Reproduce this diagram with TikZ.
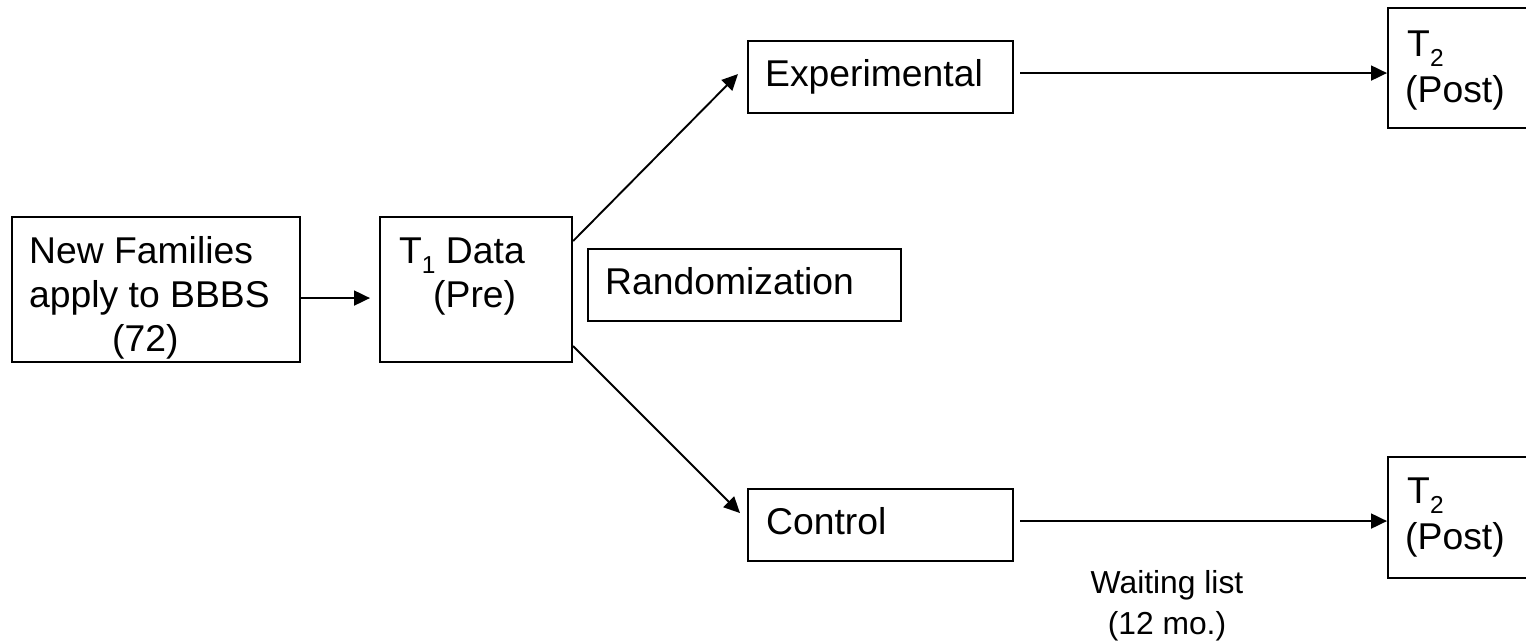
\documentclass[tikz,border=0pt]{standalone}
\usepackage{fontspec}
\setmainfont{Liberation Sans}
\usetikzlibrary{arrows.meta}
% lowered small index, as in T1 / T2
\newcommand\lowidx[1]{\raisebox{-10pt}{\fontsize{24.5}{24.5}\selectfont #1}}
\begin{document}
\begin{tikzpicture}[x=1pt,y=-1pt,
  box/.style={draw, line width=2.1pt, inner sep=0pt, anchor=north west},
  lbl/.style={font=\fontsize{37.3}{44}\selectfont, inner sep=0pt, anchor=base west},
  note/.style={font=\fontsize{31.8}{38}\selectfont, inner sep=0pt, anchor=base},
  arr/.style={line width=1.9pt, -{Triangle[length=16pt,width=15pt]}}]
\useasboundingbox (0,0) rectangle (1526,641);
\clip (0,0) rectangle (1526,641);

% boxes
\node[box, minimum width=288pt, minimum height=145pt] (nf)  at (11,216)  {};
\node[box, minimum width=192pt, minimum height=145pt] (t1)  at (379,216) {};
\node[box, minimum width=313pt, minimum height=72pt]  (rnd) at (587,248) {};
\node[box, minimum width=265pt, minimum height=72pt]  (exp) at (747,40)  {};
\node[box, minimum width=265pt, minimum height=72pt]  (ctl) at (747,488) {};
\node[box, minimum width=160pt, minimum height=120pt] (t2a) at (1387,7)   {};
\node[box, minimum width=160pt, minimum height=121pt] (t2b) at (1387,456) {};

% texts
\node[lbl] (nf-l1)  at (29,263)   {New Families};
\node[lbl] (nf-l2)  at (29,307)   {apply to BBBS};
\node[lbl] (nf-l3)  at (112,351)  {(72)};
\node[lbl] (t1-l1)  at (399,263)  {T\lowidx{1} Data};
\node[lbl] (t1-l2)  at (433,307)  {(Pre)};
\node[lbl] (rnd-l)  at (605,294)  {Randomization};
\node[lbl] (exp-l)  at (765,86)   {Experimental};
\node[lbl] (ctl-l)  at (766,534)  {Control};
\node[lbl] (t2a-l1) at (1407,56)  {T\lowidx{2}};
\node[lbl] (t2a-l2) at (1405,102) {(Post)};
\node[lbl] (t2b-l1) at (1407,503) {T\lowidx{2}};
\node[lbl] (t2b-l2) at (1405,549) {(Post)};
\node[note] (wait-l1) at (1167,593) {Waiting list};
\node[note] (wait-l2) at (1167,634) {(12 mo.)};

% connectors
\draw[arr] ([yshift=-8.5pt]nf.east) -- ([yshift=-8.5pt,xshift=-9pt]t1.west);
\draw[arr] ([yshift=48.5pt]t1.east) -- ([xshift=-9pt,yshift=3pt]exp.west);
\draw[arr] ([yshift=-56.5pt]t1.east) -- ([xshift=-7pt,yshift=12pt]ctl.west);
\coordinate (e-out) at ([xshift=6pt,yshift=4pt]exp.east);
\coordinate (c-out) at ([xshift=6pt,yshift=4pt]ctl.east);
\draw[arr] (e-out) -- (e-out -| t2a.west);
\draw[arr] (c-out) -- (c-out -| t2b.west);
\end{tikzpicture}
\end{document}
